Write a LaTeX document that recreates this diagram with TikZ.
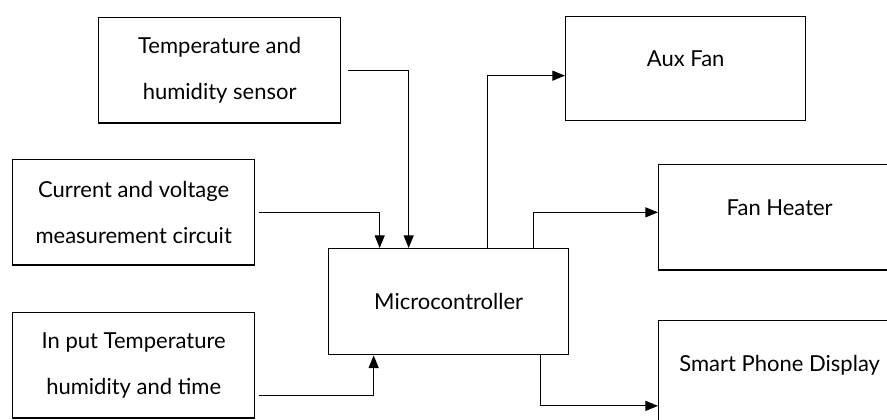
\documentclass[tikz,border=0pt]{standalone}
\usepackage{fontspec}
\setmainfont{Lato}
\usetikzlibrary{positioning, arrows.meta}

\begin{document}
\begin{tikzpicture}[
    x=0.75pt, y=-0.75pt,
    block/.style={draw, line width=1pt, rectangle, anchor=north west, inner sep=0pt,
        minimum width=181.5pt, minimum height=79pt, align=center,
        font=\fontsize{16.5pt}{34.5pt}\selectfont},
    oneline/.style={text depth=15pt},
    flow/.style={-{Triangle[length=9.5pt, width=7.5pt]}, line width=0.9pt}
]
    \useasboundingbox (0,0) rectangle (887,419);
    \clip (0,0) rectangle (887,419);

    % Inputs
    \node[block] (sensor) at (98,17) {Temperature and\\humidity sensor};
    \node[block] (meas) at (12,159) {Current and voltage\\measurement circuit};
    \node[block] (user) at (12,312) {In put Temperature\\humidity and time};

    % Controller
    \node[block, minimum width=180pt, minimum height=79.5pt] (mcu) at (328,248) {Microcontroller};

    % Outputs
    \node[block, oneline, minimum width=180pt, minimum height=78pt] (aux) at (565,16) {Aux Fan};
    \node[block, oneline] (heater) at (658,164) {Fan Heater};
    \node[block, oneline] (phone) at (658,320) {Smart Phone Display};

    % Signals into the controller
    \draw[flow, shorten <=5pt] (sensor.east) -| ([xshift=-30pt]mcu.north);
    \draw[flow, shorten <=2.5pt] (meas.east) -| ([xshift=-51.75pt]mcu.north);
    \draw[flow, shorten <=2.5pt] ([yshift=-22.5pt]user.east) -| ([xshift=-56.25pt]mcu.south);

    % Controller outputs
    \draw[flow] ([xshift=29.25pt]mcu.north) |- ([yshift=-5.25pt]aux.west);
    \draw[flow] ([xshift=63.75pt]mcu.north) |- ([yshift=3.75pt]heater.west);
    \draw[flow] ([xshift=69pt]mcu.south) |- ([yshift=-24.4pt]phone.west);

\end{tikzpicture}
\end{document}
